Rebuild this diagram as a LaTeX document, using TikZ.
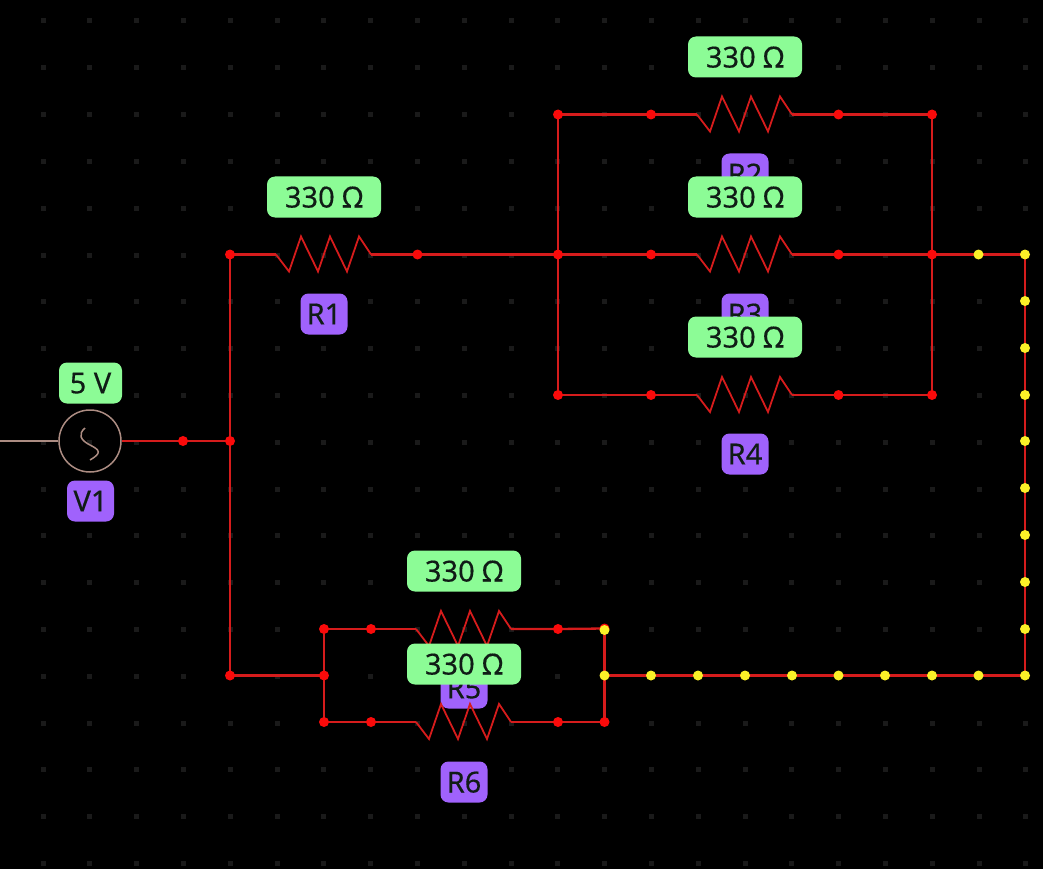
\documentclass[tikz,border=0pt]{standalone}
\usepackage{fontspec}
\setmainfont[FakeBold=0.35]{Noto Sans}
\usetikzlibrary{backgrounds}
\definecolor{wirered}{RGB}{214,28,28}
\definecolor{dotred}{RGB}{250,10,10}
\definecolor{dotyellow}{RGB}{250,240,40}
\definecolor{griddot}{RGB}{26,26,26}
\definecolor{valgreen}{RGB}{140,252,150}
\definecolor{namepurple}{RGB}{160,98,252}
\definecolor{inktext}{RGB}{16,28,22}
\definecolor{srcline}{RGB}{172,140,130}
\tikzset{
  x=1pt,y=-1pt,
  wire/.style={draw=wirered,line width=2.3pt},
  zigzag/.style={draw=wirered,line width=1.8pt,line join=miter},
  jn/.style={circle,fill=dotred,inner sep=0pt,minimum size=10pt},
  jny/.style={circle,fill=dotyellow,inner sep=0pt,minimum size=10pt},
  lbl/.style={rounded corners=8pt,inner sep=0pt,text=inktext,font=\fontsize{29}{32}\selectfont,minimum height=41pt,text depth=0pt},
  val/.style={lbl,fill=valgreen,minimum width=114pt},
  nam/.style={lbl,fill=namepurple,minimum width=47pt},
  src/.style={draw=srcline,line width=1.5pt},
}
% name, x, y: zigzag body with end coordinates
\newcommand{\resbody}[3]{%
  \coordinate (#1l) at (#2-48,#3);
  \coordinate (#1r) at (#2+47,#3);
  \draw[zigzag] (#1l) -- (#2-35,#3+17) -- (#2-23,#3-18) -- (#2-6,#3+17)
     -- (#2+6,#3-18) -- (#2+23,#3+17) -- (#2+35,#3-18) -- (#1r);
}
\begin{document}
\begin{tikzpicture}
\useasboundingbox (0,0) rectangle (1043,869);
\begin{scope}[on background layer]
  \fill[black] (0,0) rectangle (1043,869);
  \foreach \i in {0,...,21}{
    \foreach \j in {0,...,18}{
      \fill[griddot] ({43+46.8*\i-2.5},{21+46.8*\j-2.5}) rectangle ++(5,5);
    }
  }
\end{scope}

% bodies and labels in stacking order
\resbody{ra}{324}{254.5}
\node[nam] (nra) at (324,314) {R1};
\node[val] (vra) at (324,197) {330 Ω};
\resbody{rb}{745}{114.5}
\node[nam] (nrb) at (745,174) {R2};
\node[val] (vrb) at (745,57) {330 Ω};
\resbody{rc}{745}{254.5}
\node[nam] (nrc) at (745,314) {R3};
\node[val] (vrc) at (745,197) {330 Ω};
\resbody{rd}{745}{395}
\node[nam] (nrd) at (745,454) {R4};
\node[val] (vrd) at (745,337) {330 Ω};
\resbody{re}{464}{629}
\node[nam] (nre) at (464,688) {R5};
\node[val] (vre) at (464,571) {330 Ω};
\resbody{rf}{464}{722}
\node[nam] (nrf) at (464,782) {R6};
\node[val] (vrf) at (464,664) {330 Ω};

% source
\node[circle,src,inner sep=0pt,minimum size=62pt] (vs) at (90,441) {};
\draw[src] (85,428) .. controls (78,434) and (80,440) .. (90,445) .. controls (100,450) and (102,453) .. (90,460);
\coordinate (vin) at (0,441);
\draw[src,line width=2pt] (vin) -- (vs.west);
\node[lbl,fill=valgreen,minimum width=63pt] (vv) at (90.5,383) {5 V};
\node[nam] (nv) at (90.5,501) {V1};

% junctions
\node[jn] (a) at (183,441) {};
\node[jn] (b) at (230,441) {};
\node[jn] (c) at (230,254.5) {};
\node[jn] (d) at (230,675.5) {};
\node[jn] (e) at (417.5,254.5) {};
\node[jn] (f1) at (558,114.5) {};
\node[jn] (f2) at (558,254.5) {};
\node[jn] (f3) at (558,395) {};
\node[jn] (g1) at (651,114.5) {};
\node[jn] (g2) at (651,254.5) {};
\node[jn] (g3) at (651,395) {};
\node[jn] (h1) at (838.5,114.5) {};
\node[jn] (h2) at (838.5,254.5) {};
\node[jn] (h3) at (838.5,395) {};
\node[jn] (k1) at (932,114.5) {};
\node[jn] (k2) at (932,254.5) {};
\node[jn] (k3) at (932,395) {};
\node[jn] (m1) at (324,629) {};
\node[jn] (m2) at (324,675.5) {};
\node[jn] (m3) at (324,722) {};
\node[jn] (n1) at (371,629) {};
\node[jn] (n3) at (371,722) {};
\node[jn] (p1) at (558,629) {};
\node[jn] (p3) at (558,722) {};
\node[jn] (q0) at (604.5,628.5) {};
\node[jny] (q1) at (604.5,630) {};
\node[jny] (q2) at (604.5,675.5) {};
\node[jn] (q3) at (604.5,722) {};
\foreach \nm/\xx in {s1/651,s2/698,s3/745,s4/792,s5/838.5,s6/885,s7/932,s8/978.5}{
  \node[jny] (\nm) at (\xx,675.5) {};
}
\node[jny] (t0) at (978.5,254.5) {};
\foreach \nm/\yy in {u0/254.5,u1/301,u2/348,u3/395,u4/441,u5/488,u6/535,u7/582,u8/629,u9/675.5}{
  \node[jny] (\nm) at (1025,\yy) {};
}

\begin{scope}[on background layer]
  \draw[wire] (vs.east) -- (a.center) -- (b.center);
  \draw[wire] (c.center) -- (b.center) -- (d.center) -- (m2.center);
  \draw[wire] (c.center) -- (ral);
  \draw[wire] (rar) -- (e.center) -- (f2.center) -- (g2.center) -- (rcl);
  \draw[wire] (f1.center) -- (f2.center) -- (f3.center);
  \draw[wire] (f1.center) -- (g1.center) -- (rbl);
  \draw[wire] (f3.center) -- (g3.center) -- (rdl);
  \draw[wire] (rbr) -- (h1.center) -- (k1.center);
  \draw[wire] (rcr) -- (h2.center) -- (k2.center);
  \draw[wire] (rdr) -- (h3.center) -- (k3.center);
  \draw[wire] (k1.center) -- (k2.center) -- (k3.center);
  \draw[wire] (k2.center) -- (t0.center) -- (u0.center) -- (u9.center);
  \draw[wire] (m1.center) -- (m2.center) -- (m3.center);
  \draw[wire] (m1.center) -- (n1.center) -- (rel);
  \draw[wire] (m3.center) -- (n3.center) -- (rfl);
  \draw[wire] (rer) -- (p1.center) -- (q0.center);
  \draw[wire] (rfr) -- (p3.center) -- (q3.center);
  \draw[wire] (q0.center) -- (q2.center) -- (q3.center);
  \draw[wire] (q2.center) -- (u9.center);
\end{scope}
\end{tikzpicture}
\end{document}
